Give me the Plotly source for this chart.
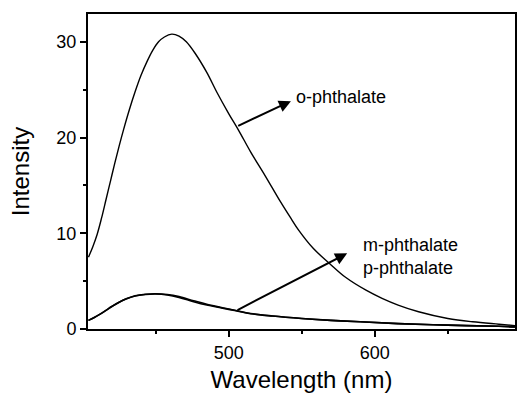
import plotly.graph_objects as go

# o-phthalate emission spectrum
wl_o = [404, 407, 410, 413, 416, 419, 422, 425, 428, 432, 436, 440, 444, 448, 452, 456, 461,
        466, 471, 477, 485, 492, 500, 507, 515, 525, 535, 542, 548, 558, 569, 580, 594, 605,
        616, 630, 650, 667, 685, 696]
int_o = [7.5, 8.6, 9.9, 11.6, 13.5, 15.4, 17.3, 19.1, 20.8, 22.9, 24.8, 26.5, 27.9, 29.1, 30.0, 30.5, 30.8,
         30.6, 30.0, 28.8, 26.8, 24.7, 22.5, 20.7, 18.5, 16.0, 13.4, 11.7, 10.3, 8.4, 6.85, 5.4, 4.05, 3.2,
         2.5, 1.8, 1.1, 0.75, 0.5, 0.35]

# m- and p-phthalate spectra (nearly identical)
wl_mp = [404, 408, 412, 416, 420, 425, 430, 436, 443, 450, 458, 466, 476, 485, 495, 505, 515,
         530, 550, 570, 590, 616, 650, 685, 696]
int_m = [0.9, 1.2, 1.55, 1.95, 2.35, 2.8, 3.15, 3.45, 3.6, 3.65, 3.55, 3.3, 2.85, 2.5, 2.2, 1.9, 1.6,
         1.35, 1.1, 0.9, 0.75, 0.56, 0.4, 0.28, 0.22]
int_p = [0.9, 1.2, 1.55, 1.95, 2.35, 2.8, 3.17, 3.48, 3.63, 3.68, 3.6, 3.38, 2.95, 2.58, 2.25, 1.93, 1.62,
         1.36, 1.1, 0.9, 0.75, 0.56, 0.4, 0.28, 0.22]

x_ticks = [500, 600]
y_ticks = [0, 10, 20, 30]

FONT = "Liberation Sans, Arial, sans-serif"

fig = go.Figure()
fig.add_trace(go.Scatter(x=wl_o, y=int_o, mode="lines", line=dict(color="black", width=1.4, shape="spline"),
                         name="o-phthalate"))
fig.add_trace(go.Scatter(x=wl_mp, y=int_m, mode="lines", line=dict(color="black", width=1.6, shape="spline"),
                         name="m-phthalate"))
fig.add_trace(go.Scatter(x=wl_mp, y=int_p, mode="lines", line=dict(color="black", width=1.6, shape="spline"),
                         name="p-phthalate"))

# arrows
fig.add_annotation(x=542.6, y=23.8, ax=505.5, ay=21.15, axref="x", ayref="y", xref="x", yref="y",
                   text="", showarrow=True, arrowhead=2, arrowsize=1.2, arrowwidth=2, arrowcolor="black",
                   standoff=0, startstandoff=0)
fig.add_annotation(x=581.1, y=7.9, ax=505.0, ay=1.9, axref="x", ayref="y", xref="x", yref="y",
                   text="", showarrow=True, arrowhead=2, arrowsize=1.2, arrowwidth=2, arrowcolor="black",
                   standoff=0, startstandoff=0)

# labels
fig.add_annotation(x=544.8, y=24.2, xref="x", yref="y", text="o-phthalate", showarrow=False,
                   xanchor="left", yanchor="middle", font=dict(family=FONT, size=18, color="black"))
fig.add_annotation(x=590.3, y=8.76, xref="x", yref="y", text="m-phthalate", showarrow=False,
                   xanchor="left", yanchor="middle", font=dict(family=FONT, size=18, color="black"))
fig.add_annotation(x=590.3, y=6.32, xref="x", yref="y", text="p-phthalate", showarrow=False,
                   xanchor="left", yanchor="middle", font=dict(family=FONT, size=18, color="black"))

fig.update_layout(
    width=518, height=394,
    margin=dict(l=88, r=1, t=14, b=65),
    paper_bgcolor="white", plot_bgcolor="white",
    showlegend=False,
    font=dict(family=FONT, color="black"),
)
fig.update_xaxes(
    range=[403.7, 696], tickvals=x_ticks, ticks="outside", ticklen=6, tickwidth=1.5, tickcolor="black",
    minor=dict(ticks="outside", ticklen=3, tickwidth=1.5, tickcolor="black", dtick=50, tick0=400, showgrid=False),
    showline=True, linecolor="black", linewidth=2, mirror=True, showgrid=False, zeroline=False,
    tickfont=dict(size=18, family=FONT),
    title=dict(text="Wavelength (nm)", font=dict(size=24, family=FONT), standoff=10),
)
fig.update_yaxes(
    range=[0, 32.9], tickvals=y_ticks, ticks="outside", ticklen=6, tickwidth=1.5, tickcolor="black",
    minor=dict(ticks="outside", ticklen=3, tickwidth=1.5, tickcolor="black", dtick=5, tick0=0, showgrid=False),
    showline=True, linecolor="black", linewidth=2, mirror=True, showgrid=False, zeroline=False,
    tickfont=dict(size=18, family=FONT),
    title=dict(text="Intensity", font=dict(size=24, family=FONT), standoff=20),
)

fig.write_html("out.html")
